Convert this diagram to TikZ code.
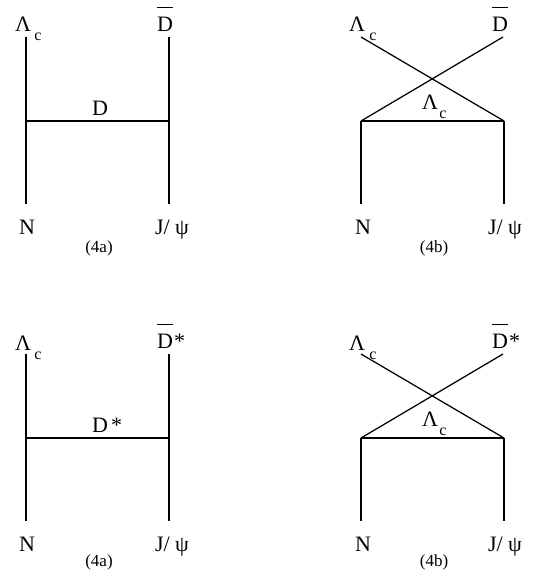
\documentclass[tikz,border=0pt]{standalone}
\usepackage{fontspec}
\setmainfont{Liberation Serif}
\newcommand{\barD}{\rlap{\rule[23pt]{15.6pt}{1.1pt}}D}
\begin{document}
\begin{tikzpicture}[x=1pt,y=-1pt,
  prop/.style={line width=1.25pt},
  lab/.style={font=\fontsize{22}{24}\selectfont, inner sep=0pt, anchor=base},
  labw/.style={font=\fontsize{22}{24}\selectfont, inner sep=0pt, anchor=base west},
  sub/.style={font=\fontsize{16}{18}\selectfont, inner sep=0pt, anchor=base},
  tag/.style={font=\fontsize{17}{19}\selectfont, inner sep=0pt, anchor=base}]
\useasboundingbox (0,0) rectangle (538,571);

% ---------- top left (4a) with D ----------
\begin{scope}
\coordinate (al1) at (26,37);  \coordinate (al2) at (26,121);  \coordinate (al3) at (26,204);
\coordinate (ar1) at (169,37); \coordinate (ar2) at (169,121); \coordinate (ar3) at (169,204);
\draw[prop] (al1) -- (al3);
\draw[prop] (ar1) -- (ar3);
\draw[prop] (al2) -- (ar2);
\node[lab] (aL) at (23,31) {Λ};
\node[sub] (aLc) at (38,40) {c};
\node[labw] (aD) at (157,31) {\barD};
\node[labw] (aM) at (92,115) {D};
\node[lab] (aN) at (27,234) {N};
\node[lab] (aJ) at (172,234) {J/ ψ};
\node[tag] (aT) at (99,252) {(4a)};
\end{scope}

% ---------- top right (4b) with D ----------
\begin{scope}
\coordinate (bl1) at (361,37);  \coordinate (bl2) at (361,121);  \coordinate (bl3) at (361,204);
\coordinate (br1) at (503,37);  \coordinate (br2) at (504,121);  \coordinate (br3) at (504,204);
\draw[prop] (bl2) -- (bl3);
\draw[prop] (br2) -- (br3);
\draw[prop] (bl2) -- (br2);
\draw[prop] (bl1) -- (br2);
\draw[prop] (bl2) -- (br1);
\node[lab] (bL) at (357,31) {Λ};
\node[sub] (bLc) at (373,40) {c};
\node[labw] (bD) at (492,31) {\barD};
\node[lab] (bM) at (430,109) {Λ};
\node[sub] (bMc) at (443,118) {c};
\node[lab] (bN) at (363,234) {N};
\node[lab] (bJ) at (505,234) {J/ ψ};
\node[tag] (bT) at (434,252) {(4b)};
\end{scope}

% ---------- bottom left (4a) with D* ----------
\begin{scope}[shift={(0,317)}]
\coordinate (cl1) at (26,37);  \coordinate (cl2) at (26,121);  \coordinate (cl3) at (26,204);
\coordinate (cr1) at (169,37); \coordinate (cr2) at (169,121); \coordinate (cr3) at (169,204);
\draw[prop] (cl1) -- (cl3);
\draw[prop] (cr1) -- (cr3);
\draw[prop] (cl2) -- (cr2);
\node[lab] (cL) at (23,33) {Λ};
\node[sub] (cLc) at (38,42) {c};
\node[labw] (cD) at (157,31) {\barD\kern1pt*};
\node[labw] (cM) at (92,115) {D\kern3pt*};
\node[lab] (cN) at (27,234) {N};
\node[lab] (cJ) at (172,234) {J/ ψ};
\node[tag] (cT) at (99,249) {(4a)};
\end{scope}

% ---------- bottom right (4b) with D* ----------
\begin{scope}[shift={(0,317)}]
\coordinate (dl1) at (361,37);  \coordinate (dl2) at (361,121);  \coordinate (dl3) at (361,204);
\coordinate (dr1) at (503,37);  \coordinate (dr2) at (504,121);  \coordinate (dr3) at (504,204);
\draw[prop] (dl2) -- (dl3);
\draw[prop] (dr2) -- (dr3);
\draw[prop] (dl2) -- (dr2);
\draw[prop] (dl1) -- (dr2);
\draw[prop] (dl2) -- (dr1);
\node[lab] (dL) at (357,33) {Λ};
\node[sub] (dLc) at (373,42) {c};
\node[labw] (dD) at (492,31) {\barD\kern1pt*};
\node[lab] (dM) at (430,109) {Λ};
\node[sub] (dMc) at (443,118) {c};
\node[lab] (dN) at (363,234) {N};
\node[lab] (dJ) at (505,234) {J/ ψ};
\node[tag] (dT) at (434,249) {(4b)};
\end{scope}
\end{tikzpicture}
\end{document}
